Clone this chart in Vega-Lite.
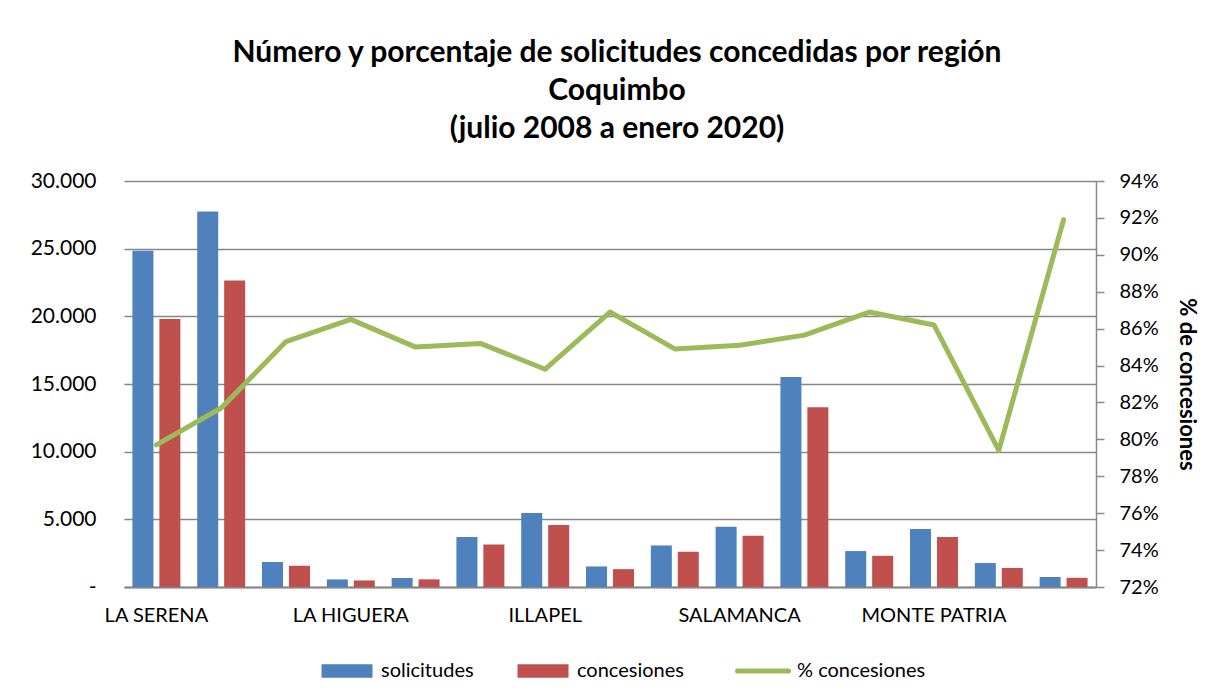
{
  "$schema": "https://vega.github.io/schema/vega-lite/v6.json",
  "width": 972,
  "height": 406,
  "autosize": {"type": "none"},
  "padding": {"left": 124, "top": 181, "right": 122, "bottom": 113},
  "background": "white",
  "config": {
    "view": {"stroke": null},
    "font": "Lato",
    "axis": {"labelFont": "Lato", "labelFontSize": 20, "labelColor": "#000000", "titleFont": "Lato"},
    "legend": {"labelFont": "Lato", "labelFontSize": 20, "labelColor": "#000000"}
  },
  "title": {
    "text": ["Número y porcentaje de solicitudes concedidas por región", "Coquimbo", "(julio 2008 a enero 2020)"],
    "font": "Lato",
    "fontSize": 30,
    "fontWeight": "bold",
    "color": "#000000",
    "lineHeight": 38,
    "anchor": "middle",
    "dx": 7,
    "offset": 26
  },
  "data": {
    "values": [
      {"comuna": "LA SERENA", "solicitudes": 24850, "concesiones": 19800, "pct": 0.797},
      {"comuna": "COQUIMBO", "solicitudes": 27750, "concesiones": 22650, "pct": 0.817},
      {"comuna": "ANDACOLLO", "solicitudes": 1850, "concesiones": 1570, "pct": 0.853},
      {"comuna": "LA HIGUERA", "solicitudes": 560, "concesiones": 485, "pct": 0.865},
      {"comuna": "PAIHUANO", "solicitudes": 665, "concesiones": 565, "pct": 0.850},
      {"comuna": "VICUÑA", "solicitudes": 3690, "concesiones": 3145, "pct": 0.852},
      {"comuna": "ILLAPEL", "solicitudes": 5460, "concesiones": 4575, "pct": 0.838},
      {"comuna": "CANELA", "solicitudes": 1520, "concesiones": 1320, "pct": 0.869},
      {"comuna": "LOS VILOS", "solicitudes": 3070, "concesiones": 2605, "pct": 0.849},
      {"comuna": "SALAMANCA", "solicitudes": 4450, "concesiones": 3785, "pct": 0.851},
      {"comuna": "OVALLE", "solicitudes": 15520, "concesiones": 13290, "pct": 0.8565},
      {"comuna": "COMBARBALÁ", "solicitudes": 2655, "concesiones": 2305, "pct": 0.869},
      {"comuna": "MONTE PATRIA", "solicitudes": 4280, "concesiones": 3690, "pct": 0.862},
      {"comuna": "PUNITAQUI", "solicitudes": 1770, "concesiones": 1405, "pct": 0.794},
      {"comuna": "RÍO HURTADO", "solicitudes": 740, "concesiones": 680, "pct": 0.919}
    ]
  },
  "encoding": {
    "x": {
      "field": "comuna",
      "type": "nominal",
      "sort": null,
      "title": null,
      "scale": {"paddingInner": 0.26, "paddingOuter": 0.13},
      "axis": {
        "values": ["LA SERENA", "LA HIGUERA", "ILLAPEL", "SALAMANCA", "MONTE PATRIA"],
        "labelAngle": 0,
        "ticks": false,
        "labelPadding": 18,
        "domainColor": "#888888",
        "domainWidth": 2,
        "grid": false
      }
    }
  },
  "layer": [
    {
      "transform": [{"fold": ["solicitudes", "concesiones"], "as": ["serie", "valor"]}],
      "mark": {"type": "bar"},
      "encoding": {
        "xOffset": {
          "field": "serie",
          "type": "nominal",
          "sort": ["solicitudes", "concesiones"],
          "scale": {"domain": ["solicitudes", "concesiones"], "paddingInner": 0.22, "paddingOuter": 0}
        },
        "y": {
          "field": "valor",
          "type": "quantitative",
          "title": null,
          "scale": {"domain": [0, 30000], "nice": false},
          "axis": {
            "values": [0, 5000, 10000, 15000, 20000, 25000, 30000],
            "labelExpr": "datum.value == 0 ? '-' : replace(format(datum.value, ','), ',', '.')",
            "labelFontSize": 21,
            "domain": false,
            "ticks": false,
            "labelPadding": 28,
            "grid": true,
            "gridColor": "#888888",
            "gridWidth": 1.5
          }
        },
        "color": {
          "field": "serie",
          "type": "nominal",
          "scale": {
            "domain": ["solicitudes", "concesiones", "% concesiones"],
            "range": ["#4F81BD", "#C0504D", "#9BBB59"]
          },
          "legend": {
            "title": null,
            "orient": "none",
            "direction": "horizontal",
            "legendX": 213,
            "legendY": 480,
            "symbolSize": 2601,
            "labelOffset": 24,
            "columnPadding": 43,
            "encode": {
              "symbols": {
                "update": {
                  "shape": {"signal": "datum.value === '% concesiones' ? 'M-1,0H1' : 'M-1,-0.26H1V0.26H-1Z'"},
                  "fill": {"signal": "datum.value === '% concesiones' ? 'transparent' : scale('color', datum.value)"},
                  "stroke": {"signal": "scale('color', datum.value)"},
                  "strokeWidth": {"signal": "datum.value === '% concesiones' ? 5 : 0"},
                  "strokeCap": {"value": "round"},
                  "opacity": {"value": 1}
                }
              }
            }
          }
        }
      }
    },
    {
      "mark": {"type": "line", "strokeWidth": 5, "strokeCap": "round", "strokeJoin": "round"},
      "encoding": {
        "y": {
          "field": "pct",
          "type": "quantitative",
          "scale": {"domain": [0.72, 0.94], "nice": false, "zero": false},
          "axis": {
            "orient": "right",
            "title": "% de concesiones",
            "titleFontSize": 22,
            "titleFontWeight": "bold",
            "titleColor": "#000000",
            "titlePadding": 16,
            "format": ".0%",
            "values": [0.72, 0.74, 0.76, 0.78, 0.8, 0.82, 0.84, 0.86, 0.88, 0.9, 0.92, 0.94],
            "domain": true,
            "domainColor": "#888888",
            "domainWidth": 1.5,
            "ticks": true,
            "tickSize": 8,
            "tickColor": "#888888",
            "tickWidth": 1.5,
            "labelPadding": 15,
            "grid": false
          }
        },
        "color": {"datum": "% concesiones"}
      }
    }
  ],
  "resolve": {"scale": {"y": "independent"}}
}
